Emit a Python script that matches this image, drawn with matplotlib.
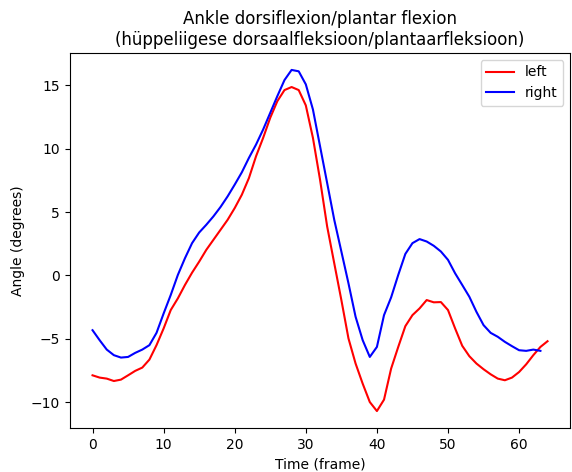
import matplotlib.pyplot as plt
import numpy as np

left = [-7.88, -8.06, -8.14, -8.33, -8.22, -7.88, -7.53, -7.27, -6.64, -5.50,
        -4.18, -2.73, -1.81, -0.75, 0.22, 1.09, 2.02, 2.81, 3.60, 4.39,
        5.32, 6.37, 7.69, 9.41, 10.86, 12.45, 13.76, 14.63, 14.87, 14.63,
        13.42, 10.86, 7.56, 3.87, 0.96, -1.94, -4.97, -6.95, -8.54, -9.99,
        -10.70, -9.80, -7.35, -5.64, -4.00, -3.13, -2.60, -1.94, -2.12, -2.10,
        -2.73, -4.18, -5.55, -6.37, -6.95, -7.40, -7.80, -8.14, -8.27, -8.06,
        -7.62, -7.01, -6.29, -5.64, -5.19]

right = [-4.32, -5.11, -5.85, -6.29, -6.48, -6.43, -6.11, -5.85, -5.50, -4.53,
         -3.00, -1.54, 0.04, 1.36, 2.55, 3.39, 4.00, 4.66, 5.40, 6.24,
         7.17, 8.14, 9.28, 10.33, 11.52, 12.84, 14.16, 15.42, 16.22, 16.11,
         15.08, 13.10, 10.20, 7.30, 4.39, 1.89, -0.62, -3.26, -5.11, -6.43,
         -5.64, -3.13, -1.73, 0.04, 1.70, 2.55, 2.87, 2.68, 2.34, 1.89,
         1.23, 0.17, -0.75, -1.68, -2.87, -3.92, -4.53, -4.84, -5.24, -5.58,
         -5.90, -5.95, -5.85, -5.95]

fig = plt.figure(figsize=(5.72, 4.72), dpi=100)
plt.plot(np.arange(len(left)), left, color="red", label="left")
plt.plot(np.arange(len(right)), right, color="blue", label="right")
plt.title("Ankle dorsiflexion/plantar flexion\n(hüppeliigese dorsaalfleksioon/plantaarfleksioon)")
plt.xlabel("Time (frame)")
plt.ylabel("Angle (degrees)")
plt.legend(loc="upper right")

plt.subplots_adjust(left=0.122, right=0.997, top=0.888, bottom=0.093)
plt.savefig("out.png", dpi=100)
